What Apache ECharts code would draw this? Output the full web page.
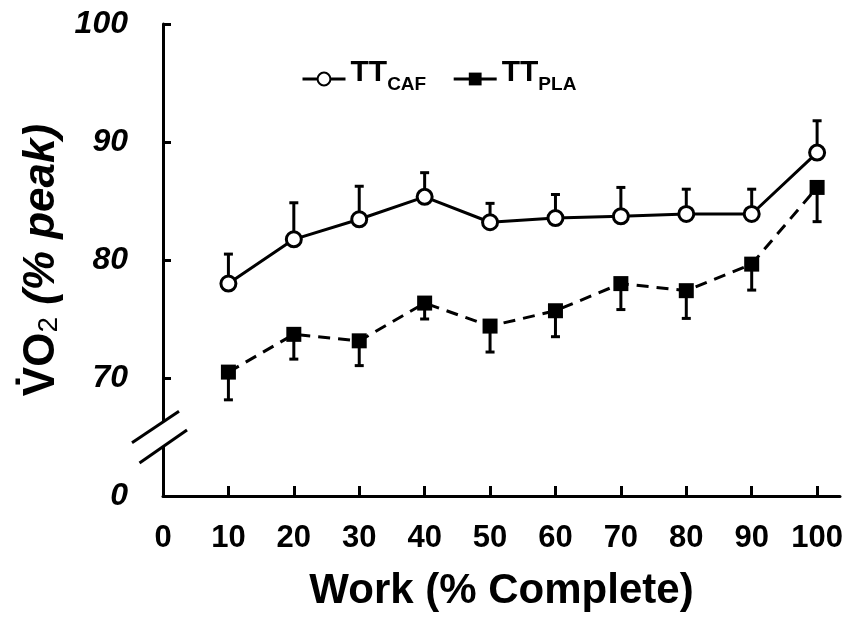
<!DOCTYPE html>
<html>
<head>
<meta charset="utf-8">
<script src="https://cdn.jsdelivr.net/npm/echarts@6/dist/echarts.min.js"></script>
<style>
html,body{margin:0;padding:0;background:#fff;}
#c{width:851px;height:620px;}
</style>
</head>
<body>
<div id="c"></div>
<script>
// ---- data ----
const work = [10, 20, 30, 40, 50, 60, 70, 80, 90, 100];
const cafMean = [78.0, 81.75, 83.45, 85.35, 83.2, 83.55, 83.7, 83.9, 83.9, 89.1];
const cafSD   = [2.5, 3.1, 2.8, 2.05, 1.6, 2.0, 2.45, 2.1, 2.1, 2.7];
const plaMean = [70.5, 73.7, 73.15, 76.35, 74.4, 75.7, 78.0, 77.4, 79.65, 86.15];
const plaSD   = [2.35, 2.1, 2.1, 1.35, 2.2, 2.2, 2.2, 2.35, 2.2, 2.9];
const seriesNames = ['TT_CAF', 'TT_PLA'];
const xTicks = [0, 10, 20, 30, 40, 50, 60, 70, 80, 90, 100];
const yTicks = [60, 70, 80, 90, 100];
const yTickText = {60: '0', 70: '70', 80: '80', 90: '90', 100: '100'};
const breakUpper = 66.3, breakLower = 64.2;

const FONT = '"Liberation Sans", Arial, sans-serif';
const chart = echarts.init(document.getElementById('c'), null, {renderer: 'canvas'});

const errCaf = work.map((x, i) => [x, cafMean[i], cafSD[i], 1]);
const errPla = work.map((x, i) => [x, plaMean[i], plaSD[i], -1]);

function renderErr(params, api) {
  const x = api.value(0), m = api.value(1), sd = api.value(2), dir = api.value(3);
  const p0 = api.coord([x, m]);
  const p1 = api.coord([x, m + dir * sd]);
  const cap = 4.5;
  const st = {stroke: '#000', lineWidth: 3};
  return {
    type: 'group',
    children: [
      {type: 'line', shape: {x1: p0[0], y1: p0[1], x2: p1[0], y2: p1[1]}, style: st},
      {type: 'line', shape: {x1: p1[0] - cap, y1: p1[1], x2: p1[0] + cap, y2: p1[1]}, style: st}
    ]
  };
}

const option = {
  animation: false,
  backgroundColor: '#fff',
  textStyle: {fontFamily: FONT},
  grid: {left: 163, right: 11, top: 24, bottom: 124, containLabel: false},
  legend: {
    left: 296, top: 53,
    itemWidth: 43, itemHeight: 16, itemGap: 26,
    data: seriesNames,
    lineStyle: {type: 'solid', width: 3},
    formatter: function (name) {
      const parts = name.split('_');
      return '{m|' + parts[0] + '}{s|' + parts[1] + '}';
    },
    textStyle: {
      color: '#000',
      rich: {
        m: {fontFamily: FONT, fontSize: 30, fontWeight: 'bold', color: '#000', verticalAlign: 'bottom', lineHeight: 30, padding: [0, 0, 6, 0]},
        s: {fontFamily: FONT, fontSize: 19, fontWeight: 'bold', color: '#000', verticalAlign: 'bottom', lineHeight: 19}
      }
    }
  },
  xAxis: {
    type: 'value', min: 0, max: 103.5, interval: 10,
    name: 'Work (% Complete)', nameLocation: 'middle', nameGap: 74,
    nameTextStyle: {fontFamily: FONT, fontSize: 42, fontWeight: 'bold', color: '#000'},
    axisLine: {show: true, lineStyle: {color: '#000', width: 3}},
    axisTick: {show: true, inside: true, length: 10, lineStyle: {color: '#000', width: 3}, customValues: xTicks.slice(1)},
    axisLabel: {show: true, customValues: xTicks, margin: 27, fontFamily: FONT, fontSize: 31, fontWeight: 'bold', color: '#000'},
    splitLine: {show: false}
  },
  yAxis: {
    type: 'value', min: 60, max: 100, interval: 10,
    name: '{a|V\u0307O}{sub|2}{b| (% peak)}', nameLocation: 'middle', nameRotate: 90, nameGap: 92,
    nameTextStyle: {
      rich: {
        a: {fontFamily: FONT, fontSize: 44, fontWeight: 'bold', color: '#000', verticalAlign: 'bottom', lineHeight: 46},
        sub: {fontFamily: FONT, fontSize: 28, fontWeight: 'normal', color: '#000', verticalAlign: 'bottom', lineHeight: 28},
        b: {fontFamily: FONT, fontSize: 44, fontWeight: 'bold', fontStyle: 'italic', color: '#000', verticalAlign: 'bottom', lineHeight: 46}
      }
    },
    axisLine: {show: true, lineStyle: {color: '#000', width: 3}},
    axisTick: {show: true, inside: true, length: 8, lineStyle: {color: '#000', width: 3}, customValues: yTicks.slice(1)},
    axisLabel: {
      show: true, customValues: yTicks, margin: 35,
      fontFamily: FONT, fontSize: 32, fontWeight: 'bold', fontStyle: 'italic', color: '#000',
      formatter: v => yTickText[v]
    },
    splitLine: {show: false}
  },
  series: [
    {
      name: 'errCaf', type: 'custom', renderItem: renderErr, data: errCaf,
      encode: {x: 0, y: 1}, z: 1, silent: true, clip: false
    },
    {
      name: 'errPla', type: 'custom', renderItem: renderErr, data: errPla,
      encode: {x: 0, y: 1}, z: 1, silent: true, clip: false
    },
    {
      name: seriesNames[0], type: 'line', z: 3,
      data: work.map((x, i) => [x, cafMean[i]]),
      symbol: 'circle', symbolSize: 15, showAllSymbol: true,
      lineStyle: {color: '#000', width: 3, type: 'solid'},
      itemStyle: {color: '#fff', borderColor: '#000', borderWidth: 3}
    },
    {
      name: seriesNames[1], type: 'line', z: 3,
      data: work.map((x, i) => [x, plaMean[i]]),
      symbol: 'rect', symbolSize: 15, showAllSymbol: true,
      lineStyle: {color: '#000', width: 3, type: [12, 8]},
      itemStyle: {color: '#000', borderColor: '#000', borderWidth: 0}
    }
  ]
};
chart.setOption(option);

// axis break marks on the y axis (positions derived from the axis scale)
const pU = chart.convertToPixel({gridIndex: 0}, [0, breakUpper]);
const pL = chart.convertToPixel({gridIndex: 0}, [0, breakLower]);
const ax = pU[0];
chart.setOption({
  graphic: [
    {type: 'line', z: 100, shape: {x1: ax, y1: pU[1], x2: ax, y2: pL[1]}, style: {stroke: '#fff', lineWidth: 6}},
    {type: 'line', z: 101, shape: {x1: ax - 31, y1: pU[1] + 21, x2: ax + 16, y2: pU[1] - 10.5}, style: {stroke: '#000', lineWidth: 3}},
    {type: 'line', z: 101, shape: {x1: ax - 23.5, y1: pL[1] + 16.5, x2: ax + 24, y2: pL[1] - 16.5}, style: {stroke: '#000', lineWidth: 3}}
  ]
});
</script>
</body>
</html>
